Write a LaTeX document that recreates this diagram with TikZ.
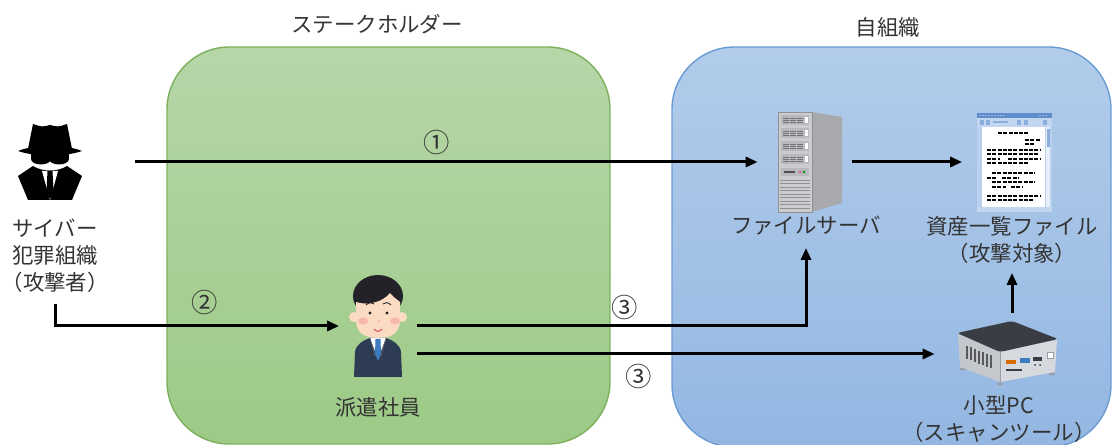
\documentclass[tikz,border=0pt]{standalone}
\usepackage{fontspec}
\setmainfont{Noto Sans CJK JP}[RawFeature={+halt}]
\usepackage{xcolor}
\usetikzlibrary{arrows.meta, positioning}

\definecolor{stkTop}{HTML}{B6D6A8}
\definecolor{stkBot}{HTML}{9DCA86}
\definecolor{stkLine}{HTML}{7DB05D}
\definecolor{orgTop}{HTML}{B2CCEA}
\definecolor{orgBot}{HTML}{93B7E2}
\definecolor{orgLine}{HTML}{6B9CD4}
\definecolor{hairc}{HTML}{222228}
\definecolor{skinc}{HTML}{FBDCC3}
\definecolor{cheekc}{HTML}{F5A3A0}
\definecolor{mouthc}{HTML}{E0607A}
\definecolor{suitc}{HTML}{2E3B55}
\definecolor{tiec}{HTML}{3B7BBE}
\definecolor{srvfront}{HTML}{CBCCCE}
\definecolor{srvside}{HTML}{A7A9AC}
\definecolor{srvbay}{HTML}{B7B9BC}
\definecolor{srvslot}{HTML}{6F7174}
\definecolor{srvedge}{HTML}{8E9093}
\definecolor{docframe}{HTML}{B9D0EE}
\definecolor{docbar}{HTML}{5F8DCC}
\definecolor{doctool}{HTML}{C3D6F0}
\definecolor{docblock}{HTML}{8CAEDD}
\definecolor{pctop}{HTML}{3A3D44}
\definecolor{pcleft}{HTML}{C4C8CD}
\definecolor{pcright}{HTML}{D6D9DD}
\definecolor{pcedge}{HTML}{9A9EA4}

\begin{document}
\begin{tikzpicture}[x=0.02cm, y=-0.02cm,
        arr/.style={-{Triangle[length=2.4mm, width=2mm]}, line width=0.6mm},
        lbl/.style={font=\fontsize{12.2}{15.4}\selectfont, text=black!80, align=center, inner sep=0pt},
        num/.style={font=\fontsize{15}{18}\selectfont, text=black!80, inner sep=0pt},
        icon/.style={inner sep=0pt, minimum width=#1},
        txtline/.style={line width=0.4mm, dash pattern=on 0.8mm off 0.25mm}
    ]
        \useasboundingbox (0,0) rectangle (1112,445);

        % the two groups
        \path[draw=stkLine, line width=0.8pt, top color=stkTop, bottom color=stkBot, rounded corners=1.25cm] (167,47) rectangle (610,444);
        \path[draw=orgLine, line width=0.8pt, top color=orgTop, bottom color=orgBot, rounded corners=1.25cm] (672,47) rectangle (1111,447);
        \node[lbl] (stk) at (377,24) {ステークホルダー};
        \node[lbl] (org) at (888,27) {自組織};

        % icon placeholders
        \node[icon=1.28cm, minimum height=1.6cm] (hacker) at (50,162) {};
        \node[icon=1.06cm, minimum height=2.04cm] (staff) at (378,326) {};
        \node[icon=1.28cm, minimum height=2cm] (server) at (810,162) {};
        \node[icon=1.5cm, minimum height=2cm] (file) at (1014,162) {};
        \node[icon=2cm, minimum height=1.56cm] (pc) at (1007,352) {};

        % hacker
        \begin{scope}[shift={(hacker)}]
            \fill (-22,-13) -- (-17,-38) .. controls (-8,-35) .. (0,-37) .. controls (8,-35) .. (17,-38) -- (22,-13) -- cycle;
            \fill (-32,-11) .. controls (-15,-18) and (15,-18) .. (32,-11) .. controls (15,-5) and (-15,-5) .. cycle;
            \fill (-19,-9) rectangle (19,-3);
            \fill (-9,-3) ellipse [x radius=10, y radius=5.5];
            \fill (9,-3) ellipse [x radius=10, y radius=5.5];
            \fill (-17,4) .. controls (-8,10) and (8,10) .. (17,4) -- (32,14) -- (22,38) -- (-22,38) -- (-32,14) -- cycle;
            \fill[white] (-8,9) -- (8,9) -- (0,38) -- cycle;
            \fill (-2.5,9) -- (2.5,9) -- (3.5,29) -- (0,37) -- (-3.5,29) -- cycle;
        \end{scope}

        % staff member
        \begin{scope}[shift={(staff)}]
            \fill[hairc] (0,-30) ellipse [x radius=25, y radius=21];
            \fill[skinc] (-24,-9) circle [radius=5];
            \fill[skinc] (24,-9) circle [radius=5];
            \fill[skinc] (-22,-24) .. controls (-10,-20) and (5,-24) .. (12,-33) .. controls (16,-28) and (20,-26) .. (22,-24)
                -- (22,-6) .. controls (22,8) and (12,12) .. (0,12) .. controls (-12,12) and (-22,8) .. (-22,-6) -- cycle;
            \fill[cheekc, opacity=0.6] (-15,-5) ellipse [x radius=5, y radius=3.5];
            \fill[cheekc, opacity=0.6] (17,-5) ellipse [x radius=5, y radius=3.5];
            \draw[hairc, line width=0.5pt] (-12,-21) .. controls (-9,-24) and (-6,-24) .. (-4,-22);
            \draw[hairc, line width=0.5pt] (5,-22) .. controls (7,-24) and (10,-24) .. (13,-21);
            \fill[hairc] (-8,-13) circle [radius=1.6];
            \fill[hairc] (9,-13) circle [radius=1.6];
            \fill[cheekc] (1,-5) circle [radius=1];
            \draw[mouthc, line width=0.7pt] (-4,3) .. controls (-2,6) and (2,6) .. (4,3);
            \fill[suitc] (-24,51) -- (-23,26) .. controls (-22,18) and (-14,14) .. (-8,12) -- (8,12) .. controls (14,14) and (22,18) .. (23,26) -- (24,51) -- cycle;
            \fill[white] (-8,12) -- (8,12) -- (0,33) -- cycle;
            \fill[tiec] (-2.5,13) -- (2.5,13) -- (3,28) -- (0,35) -- (-3,28) -- cycle;
            \draw[black!60, line width=0.3pt] (-8,12) -- (-3,30) (8,12) -- (3,30);
        \end{scope}

        % file server
        \begin{scope}[shift={(server)}]
            \fill[srvside] (2,-50) -- (32,-45) -- (32,41) -- (2,50) -- cycle;
            \fill[srvfront] (-32,-50) rectangle (2,50);
            \draw[srvedge, line width=0.3pt] (-32,-50) rectangle (2,50);
            \foreach \by in {-47,-34,-21,-8} {
                \fill[srvbay] (-29,\by) rectangle (-1,\by+10);
                \foreach \sx in {-27,-20,-13}
                    \foreach \ly in {3,5,7}
                        \draw[srvslot, line width=0.35pt] (\sx,\by+\ly) -- ++(6,0);
                \fill[white] (-5.5,\by+2) rectangle (-2,\by+8);
            }
            \fill[srvbay] (-29,6) rectangle (-1,14);
            \draw[black!70, line width=0.8pt] (-26,10) -- (-15,10);
            \fill[magenta!70] (-10,10) circle [radius=1.3];
            \fill[green!60!black] (-6,10) circle [radius=1.3];
            \foreach \vy in {18,21.5,...,47}
                \draw[srvedge, line width=0.5pt] (-30,\vy) -- (0,\vy);
        \end{scope}

        % asset list document
        \begin{scope}[shift={(file)}]
            \fill[docframe] (-37,-49) rectangle (38,50);
            \fill[docbar] (-37,-49) rectangle (38,-44);
            \foreach \dx in {-34,-31,...,-10}
                \fill[white!80!docbar] (\dx,-46.5) circle [radius=0.6];
            \foreach \dx in {26,29,32}
                \fill[white!80!docbar] (\dx,-46.5) circle [radius=0.6];
            \fill[doctool] (-37,-44) rectangle (38,-35);
            \fill[docblock] (-34,-42) rectangle (-30,-37);
            \fill[docblock] (-28,-42) rectangle (-24,-37);
            \fill[docblock] (-21,-40.5) rectangle (-6,-38.5);
            \fill[docblock] (3,-42) rectangle (7,-37);
            \fill[docblock] (10,-42) rectangle (14,-37);
            \fill[docblock] (29,-42) rectangle (33,-37);
            \fill[white] (-32,-35) rectangle (31,45);
            \fill[white!60!doctool] (32,-35) rectangle (36,45);
            \fill[docblock] (32.5,-33) rectangle (35.5,-15);
            \draw[txtline] (-16,-29) -- (14,-29);
            \draw[txtline] (11,-22) -- (26,-22) (11,-18) -- (21,-18);
            \draw[txtline] (-27,-12) -- (26,-12) (-27,-8) -- (24,-8)
                (-27,-3) -- (-14,-3) (-6,-3) -- (26,-3) (-27,1) -- (14,1);
            \draw[txtline] (-22,11) -- (21,11) (-27,16) -- (-18,16) (-12,16) -- (5,16)
                (-22,20) -- (21,20) (-22,25) -- (-8,25) (-3,25) -- (8,25);
            \draw[txtline] (-27,34) -- (26,34) (-27,38) -- (20,38);
            \fill[doctool] (-37,45) rectangle (38,50);
        \end{scope}

        % small PC
        \begin{scope}[shift={(pc)}]
            \fill[pcedge] (-44,17) ellipse [x radius=3, y radius=1.5];
            \fill[pcedge] (-7,32) ellipse [x radius=3, y radius=1.5];
            \fill[pcedge] (45,22) ellipse [x radius=3, y radius=1.5];
            \fill[pcleft] (-49,-18) -- (-7,-1) -- (-7,30) -- (-47,15) -- cycle;
            \fill[pcright] (-7,-1) -- (50,-12) -- (48,20) -- (-7,30) -- cycle;
            \draw[pcedge, line width=0.3pt] (-7,-1) -- (-7,30);
            \fill[pctop, rounded corners=0.06cm] (-50,-19) -- (5,-31) -- (51,-13) -- (-7,0) -- cycle;
            \foreach \vx in {-40,-36,...,-16}
                \draw[black!65, line width=0.6pt] (\vx,{-19+(\vx+49)*0.405+9}) -- ++(0,13);
            \fill[orange!85!black] (-1,8) rectangle (9,12);
            \fill[tiec] (13,6) rectangle (23,11);
            \fill[pctop] (26,5) rectangle (35,9);
            \fill[white] (40,0) rectangle (46,6);
            \draw[pcedge, line width=0.3pt] (40,0) rectangle (46,6);
            \fill[pctop] (-1,17) rectangle (15,19.5);
            \fill[pctop] (28,13) circle [radius=1];
            \fill[pctop] (33,13) circle [radius=1];
        \end{scope}

        % labels
        \node[lbl, align=left, anchor=west] (hackerlbl) at (12,256) {サイバー\\犯罪組織\\（攻撃者）};
        \node[lbl] (stafflbl) at (378,407) {派遣社員};
        \node[lbl] (srvlbl) at (806,226) {ファイルサーバ};
        \node[lbl] (filelbl) at (1012,240) {資産一覧ファイル\\（攻撃対象）};
        \node[lbl] (pclbl) at (999,419) {小型PC\\（スキャンツール）};

        % step numbers
        \node[num] (n1) at (437,142) {①};
        \node[num] (n2) at (205,302) {②};
        \node[num] (n3a) at (625,307) {③};
        \node[num] (n3b) at (639,376) {③};

        % connectors
        \coordinate (staffout) at ([yshift=-0.56cm]staff.east);
        \draw[arr, shorten <=1.06cm, shorten >=0.4cm] (hacker.east) -- (server.west);
        \draw[arr, shorten <=0.2cm, shorten >=0.28cm] (server.east) -- (file.west);
        \draw[arr, shorten <=0.22cm, shorten >=0.24cm] (hackerlbl.south) |- (staff.west);
        \draw[arr, shorten <=0.24cm, shorten >=0.24cm] (staff.east) -| (srvlbl.south);
        \draw[arr, shorten <=0.24cm, shorten >=0.44cm] (staffout) -- (staffout -| pc.west);
        \draw[arr, shorten >=0.18cm] (pc.north -| filelbl.south) -- (filelbl.south);
    \end{tikzpicture}
\end{document}
